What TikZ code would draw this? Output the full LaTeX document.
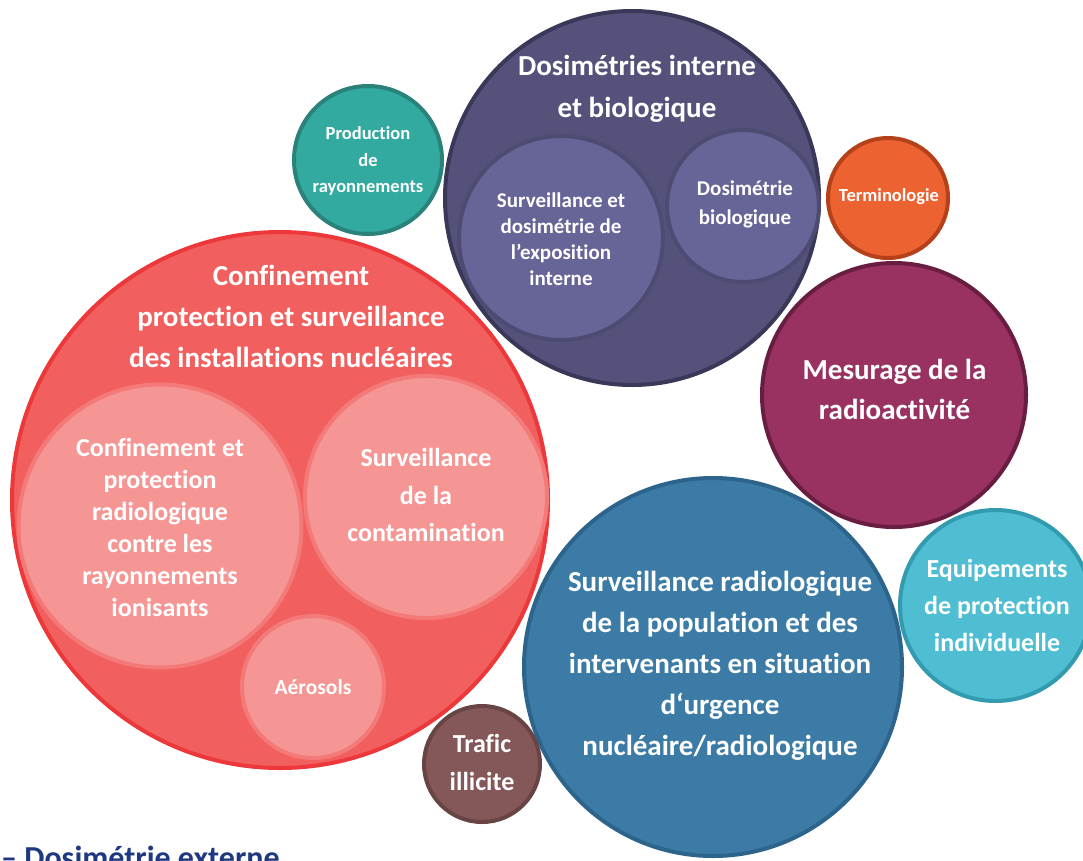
\documentclass[tikz,border=0pt]{standalone}
\usepackage{fontspec}
\setmainfont{Carlito}[Ligatures=NoCommon]
\definecolor{redF}{RGB}{241,95,94}
\definecolor{redD}{RGB}{236,56,58}
\definecolor{pinkF}{RGB}{245,150,148}
\definecolor{pinkD}{RGB}{243,122,121}
\definecolor{purF}{RGB}{84,82,122}
\definecolor{purD}{RGB}{58,56,88}
\definecolor{lavF}{RGB}{103,100,152}
\definecolor{lavD}{RGB}{78,75,115}
\definecolor{tealF}{RGB}{50,170,160}
\definecolor{tealD}{RGB}{42,130,122}
\definecolor{oraF}{RGB}{236,98,48}
\definecolor{oraD}{RGB}{180,65,25}
\definecolor{magF}{RGB}{153,50,97}
\definecolor{magD}{RGB}{105,30,65}
\definecolor{cyaF}{RGB}{79,190,211}
\definecolor{cyaD}{RGB}{50,155,175}
\definecolor{bluF}{RGB}{59,123,165}
\definecolor{bluD}{RGB}{45,100,140}
\definecolor{broF}{RGB}{132,88,88}
\definecolor{broD}{RGB}{105,68,68}
\definecolor{navy}{RGB}{32,56,130}
\begin{document}
\begin{tikzpicture}[x=1pt,y=-1pt,
  bub/.style={circle, inner sep=0pt, line width=4pt},
  txt/.style={text=white, align=center, inner sep=0pt}]
\useasboundingbox (0,0) rectangle (1083,860);
\clip (0,0) rectangle (1083,860);
% big red
\node[bub, fill=redF, draw=redD, minimum size=536] (cRed) at (280,500) {};
\node[bub, fill=pinkF, draw=pinkD, minimum size=283] (cConf) at (160,526) {};
\node[bub, fill=pinkF, draw=pinkD, minimum size=242] (cCont) at (426,497) {};
\node[bub, fill=pinkF, draw=pinkD, minimum size=142] (cAero) at (313,687) {};
% purple
\node[bub, fill=purF, draw=purD, minimum size=374] (cPur) at (632,198) {};
\node[bub, fill=lavF, draw=lavD, minimum size=204] (cSurvD) at (561,238) {};
\node[bub, fill=lavF, draw=lavD, minimum size=152] (cBio) at (743,206) {};
% others
\node[bub, fill=tealF, draw=tealD, minimum size=148] (cProd) at (368,160) {};
\node[bub, fill=oraF, draw=oraD, minimum size=120] (cTerm) at (888,198) {};
\node[bub, fill=magF, draw=magD, minimum size=264] (cMes) at (894,395) {};
\node[bub, fill=cyaF, draw=cyaD, minimum size=191] (cEqu) at (995.5,605.5) {};
\node[bub, fill=bluF, draw=bluD, minimum size=378] (cUrg) at (713,667) {};
\node[bub, fill=broF, draw=broD, minimum size=116] (cTraf) at (482,764) {};
% texts
\node[txt, font=\fontsize{29}{41}\selectfont\bfseries] (tRed) at (291,316) {Confinement\\protection et surveillance\\des installations nucléaires};
\node[txt, font=\fontsize{26}{32}\selectfont\bfseries] (tConf) at (160,527) {Confinement et\\protection\\radiologique\\contre les\\rayonnements\\ionisants};
\node[txt, font=\fontsize{26}{37.5}\selectfont\bfseries] (tCont) at (426,495) {Surveillance\\de la\\contamination};
\node[txt, font=\fontsize{21.5}{24}\selectfont\bfseries] (tAero) at (313,687) {Aérosols};
\node[txt, font=\fontsize{29}{42}\selectfont\bfseries] (tPur) at (637,89) {Dosimétries interne\\et biologique};
\node[txt, font=\fontsize{21}{26}\selectfont\bfseries] (tSurvD) at (561,239) {Surveillance et\\dosimétrie de\\l’exposition\\interne};
\node[txt, font=\fontsize{21}{29}\selectfont\bfseries] (tBio) at (745,204.5) {Dosimétrie\\biologique};
\node[txt, font=\fontsize{18.5}{26.5}\selectfont\bfseries] (tProd) at (368,161) {Production\\de\\rayonnements};
\node[txt, font=\fontsize{18.5}{22}\selectfont\bfseries] (tTerm) at (889,197) {Terminologie};
\node[txt, font=\fontsize{29}{40}\selectfont\bfseries] (tMes) at (894.5,389) {Mesurage de la\\radioactivité};
\node[txt, font=\fontsize{26}{37}\selectfont\bfseries] (tEqu) at (997,605) {Equipements\\de protection\\individuelle};
\node[txt, font=\fontsize{29}{41}\selectfont\bfseries] (tUrg) at (720,666) {Surveillance radiologique\\de la population et des\\intervenants en situation\\d‘urgence\\nucléaire/radiologique};
\node[txt, font=\fontsize{26}{38}\selectfont\bfseries] (tTraf) at (482,762) {Trafic\\illicite};
\node[anchor=base west, inner sep=0pt, text=navy, font=\fontsize{32}{38}\selectfont\bfseries] (tExt) at (1,868.5) {– Dosimétrie externe};
\end{tikzpicture}
\end{document}
